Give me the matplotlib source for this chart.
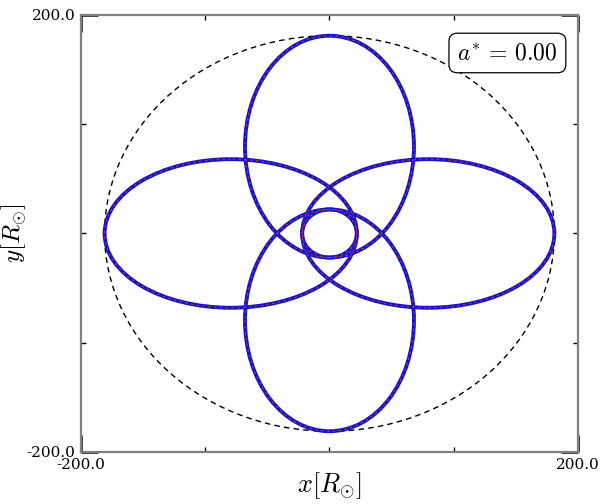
import matplotlib
matplotlib.use("Agg")
import matplotlib.pyplot as plt
import numpy as np
from matplotlib.patches import Circle, Ellipse

plt.rcParams["mathtext.fontset"] = "cm"
plt.rcParams["font.family"] = "DejaVu Serif"

# orbit parameters [R_sun]
apo_angles = [90, 0, 270, 180]      # direction of apocentre, degrees
r_apo = [181.0, 181.0, 181.0, 181.0]
r_peri = [22.0, 22.0, 22.0, 22.0]
semi_minor = [68.0, 68.0, 68.0, 68.0]
inner_radius = 22.0
outer_radius = 181.0
spin = 0.00

fig = plt.figure(figsize=(6.03, 5.04), dpi=100)
ax = fig.add_axes([0.1343, 0.1032, 0.8242, 0.8671])


def add_orbit(patch_fn):
    # solid blue track with red dashed overlay
    ax.add_patch(patch_fn(fill=False, edgecolor="#1414c8", lw=2.8, zorder=3))
    ax.add_patch(patch_fn(fill=False, edgecolor="#e03030", lw=0.7,
                          linestyle=(0, (2.5, 3.5)), zorder=4))


for ang, ra, rp, b in zip(apo_angles, r_apo, r_peri, semi_minor):
    a = 0.5 * (ra + rp)
    off = 0.5 * (ra - rp)
    cx = off * np.cos(np.radians(ang))
    cy = off * np.sin(np.radians(ang))
    add_orbit(lambda cx=cx, cy=cy, a=a, b=b, ang=ang, **kw:
              Ellipse((cx, cy), 2 * a, 2 * b, angle=ang, **kw))

add_orbit(lambda **kw: Circle((0, 0), inner_radius, **kw))

ax.add_patch(Circle((0, 0), outer_radius, fill=False, edgecolor="black",
                    lw=1.0, linestyle=(0, (4, 3)), zorder=2))

ax.set_xlim(-200, 200)
ax.set_ylim(-200, 200)
ax.set_xticks([-200, 200])
ax.set_yticks([-200, 200])
ax.set_xticklabels(["-200.0", "200.0"])
ax.set_yticklabels(["-200.0", "200.0"])
ax.set_xticks([-100, 0, 100], minor=True)
ax.set_yticks([-100, 0, 100], minor=True)
ax.tick_params(which="both", direction="in", top=True, right=True,
               labelsize=11, colors="black")
ax.tick_params(which="major", length=12, width=1.8, pad=4)
ax.tick_params(which="minor", length=3.5, width=1.0)
for sp in ax.spines.values():
    sp.set_color("0.5")
    sp.set_linewidth(1.6)

ax.set_xlabel(r"$x[R_{\odot}]$", fontsize=19, labelpad=-1)
ax.set_ylabel(r"$y[R_{\odot}]$", fontsize=18)
ax.yaxis.set_label_coords(-0.104, 0.5)

ax.text(0.858, 0.913, r"$a^{*}\,=\,%.2f$" % spin, transform=ax.transAxes,
        fontsize=17, ha="center", va="center",
        bbox=dict(boxstyle="round,pad=0.35", facecolor="white",
                  edgecolor="black", lw=0.9))

fig.savefig("out.png", dpi=100)
